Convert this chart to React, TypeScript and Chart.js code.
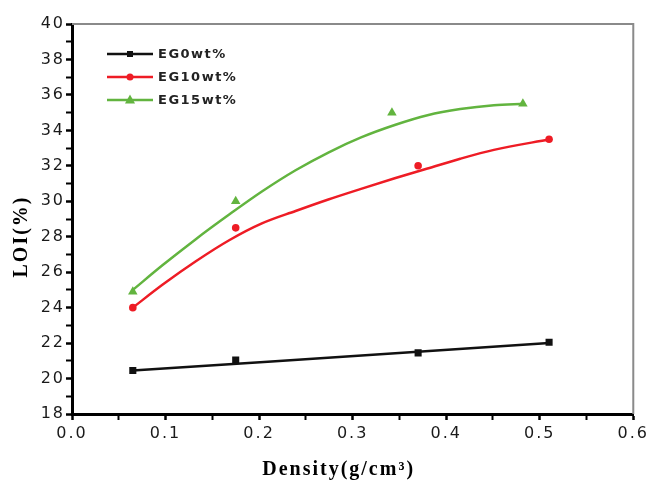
import { useEffect, useRef } from 'react';
import { Chart, registerables } from 'chart.js';

Chart.register(...registerables);

// Measured data points
const density0 = [0.065, 0.175, 0.37, 0.51];
const loi0 = [20.45, 21.05, 21.45, 22.05];
const density10 = [0.065, 0.175, 0.37, 0.51];
const loi10 = [24.0, 28.5, 32.0, 33.5];
const density15 = [0.065, 0.175, 0.342, 0.482];
const loi15 = [24.9, 30.0, 35.0, 35.5];

// Fitted curves
const fitX0 = [0.065, 0.51];
const fitY0 = [20.45, 22.0];
const fitX10 = [0.065, 0.097, 0.132, 0.168, 0.203, 0.239, 0.274, 0.309, 0.345, 0.38, 0.415, 0.451, 0.511];
const fitY10 = [24.0, 25.3, 26.6, 27.8, 28.75, 29.45, 30.1, 30.7, 31.3, 31.85, 32.4, 32.9, 33.5];
const fitX15 = [0.065, 0.097, 0.132, 0.168, 0.203, 0.239, 0.274, 0.309, 0.345, 0.38, 0.415, 0.451, 0.483];
const fitY15 = [25.0, 26.4, 27.85, 29.25, 30.55, 31.75, 32.75, 33.6, 34.3, 34.85, 35.2, 35.42, 35.5];

const seriesNames = ['EG0wt%', 'EG10wt%', 'EG15wt%'];
const seriesColors = ['#111111', '#ee1c25', '#62b43f'];
const seriesShapes = ['rect', 'circle', 'triangle'];

const xTitle = 'Density(g/cm³)';
const yTitle = 'LOI(%)';

const toPts = (xs: number[], ys: number[]) => xs.map((x, i) => ({ x, y: ys[i] }));

const spacingPlugin = {
  id: 'spacing',
  beforeLayout(chart: any) {
    chart.ctx.letterSpacing = '2px';
  },
  beforeDraw(chart: any) {
    chart.ctx.letterSpacing = '2px';
  },
};

const framePlugin = {
  id: 'frame',
  beforeDatasetsDraw(chart: any) {
    const { ctx, chartArea } = chart;
    ctx.save();
    ctx.strokeStyle = '#8a8a8a';
    ctx.lineWidth = 2;
    ctx.beginPath();
    ctx.moveTo(chartArea.left, chartArea.top);
    ctx.lineTo(chartArea.right, chartArea.top);
    ctx.lineTo(chartArea.right, chartArea.bottom);
    ctx.stroke();
    ctx.restore();
  },
};

function drawShape(ctx: CanvasRenderingContext2D, shape: string, x: number, y: number, r: number) {
  ctx.beginPath();
  if (shape === 'rect') {
    ctx.rect(x - r, y - r, 2 * r, 2 * r);
  } else if (shape === 'circle') {
    ctx.arc(x, y, r, 0, Math.PI * 2);
  } else {
    ctx.moveTo(x, y - r * 1.1);
    ctx.lineTo(x + r, y + r * 0.7);
    ctx.lineTo(x - r, y + r * 0.7);
    ctx.closePath();
  }
  ctx.fill();
}

const legendPlugin = {
  id: 'customLegend',
  afterDraw(chart: any) {
    const { ctx } = chart;
    const rows = [54, 77, 100];
    const sizes = [3, 3.5, 5];
    ctx.save();
    ctx.letterSpacing = '1.5px';
    ctx.font = 'bold 13px "DejaVu Sans", sans-serif';
    ctx.textBaseline = 'middle';
    ctx.textAlign = 'left';
    seriesNames.forEach((name, i) => {
      const y = rows[i];
      ctx.strokeStyle = seriesColors[i];
      ctx.fillStyle = seriesColors[i];
      ctx.lineWidth = 2.5;
      ctx.beginPath();
      ctx.moveTo(107, y);
      ctx.lineTo(153, y);
      ctx.stroke();
      drawShape(ctx, seriesShapes[i], 130, y, sizes[i]);
      ctx.fillStyle = '#222222';
      ctx.fillText(name, 158, y + 1);
    });
    ctx.restore();
  },
};

export default function App() {
  const ref = useRef<HTMLCanvasElement>(null);

  useEffect(() => {
    document.body.style.margin = '0';
    if (!ref.current) return;
    const fitSets = [toPts(fitX0, fitY0), toPts(fitX10, fitY10), toPts(fitX15, fitY15)];
    const ptSets = [toPts(density0, loi0), toPts(density10, loi10), toPts(density15, loi15)];
    const radii = [5, 3.8, 5.5];
    const datasets: any[] = [];
    seriesNames.forEach((name, i) => {
      datasets.push({
        label: name + ' fit',
        data: fitSets[i],
        showLine: true,
        borderColor: seriesColors[i],
        borderWidth: 2.5,
        pointRadius: 0,
        cubicInterpolationMode: 'monotone',
        fill: false,
      });
    });
    seriesNames.forEach((name, i) => {
      datasets.push({
        label: name,
        data: ptSets[i],
        showLine: false,
        pointStyle: seriesShapes[i],
        pointRadius: radii[i],
        pointBackgroundColor: seriesColors[i],
        pointBorderColor: seriesColors[i],
        pointBorderWidth: 0,
      });
    });

    const tickFont = { family: '"DejaVu Sans", sans-serif', size: 16 };
    const titleFont = { family: '"Liberation Serif", "Times New Roman", serif', size: 20, weight: 'bold' as const };

    const chart = new Chart(ref.current, {
      type: 'scatter',
      data: { datasets },
      plugins: [spacingPlugin, framePlugin, legendPlugin],
      options: {
        animation: false,
        responsive: true,
        maintainAspectRatio: false,
        layout: { padding: { top: 24, right: 16, left: 0, bottom: 0 } },
        plugins: { legend: { display: false }, tooltip: { enabled: false } },
        scales: {
          x: {
            type: 'linear',
            min: 0,
            max: 0.6,
            afterFit: (s: any) => { s.height = 71; },
            ticks: {
              stepSize: 0.05,
              autoSkip: false,
              maxRotation: 0,
              padding: 4,
              color: '#1a1a1a',
              font: tickFont,
              callback: (v: any, i: number) => (i % 2 === 0 ? Number(v).toFixed(1) : ''),
            },
            grid: {
              drawOnChartArea: false,
              drawTicks: true,
              tickLength: 6,
              tickColor: '#000',
              tickWidth: (c: any) => (c.index % 2 === 0 ? 2.5 : 2),
            },
            border: { display: true, color: '#000', width: 3 },
            title: {
              display: true,
              text: xTitle + '    ',
              color: '#000',
              font: titleFont,
              padding: { top: 0, bottom: 3 },
            },
          },
          y: {
            type: 'linear',
            min: 18,
            max: 40,
            afterFit: (s: any) => { s.width = 72; },
            ticks: {
              stepSize: 1,
              autoSkip: false,
              padding: 1,
              color: '#1a1a1a',
              font: tickFont,
              callback: (v: any) => (Number(v) % 2 === 0 ? String(v) : ''),
            },
            grid: {
              drawOnChartArea: false,
              drawTicks: true,
              tickLength: 6,
              tickColor: '#000',
              tickWidth: (c: any) => (c.index % 2 === 0 ? 2.5 : 2),
            },
            border: { display: true, color: '#000', width: 3 },
            title: {
              display: true,
              text: yTitle + '     ',
              color: '#000',
              font: titleFont,
              padding: { top: 10, bottom: 0 },
            },
          },
        },
      },
    });
    return () => chart.destroy();
  }, []);

  return (
    <div style={{ width: 653, height: 485, position: 'relative' }}>
      <canvas ref={ref} />
    </div>
  );
}
